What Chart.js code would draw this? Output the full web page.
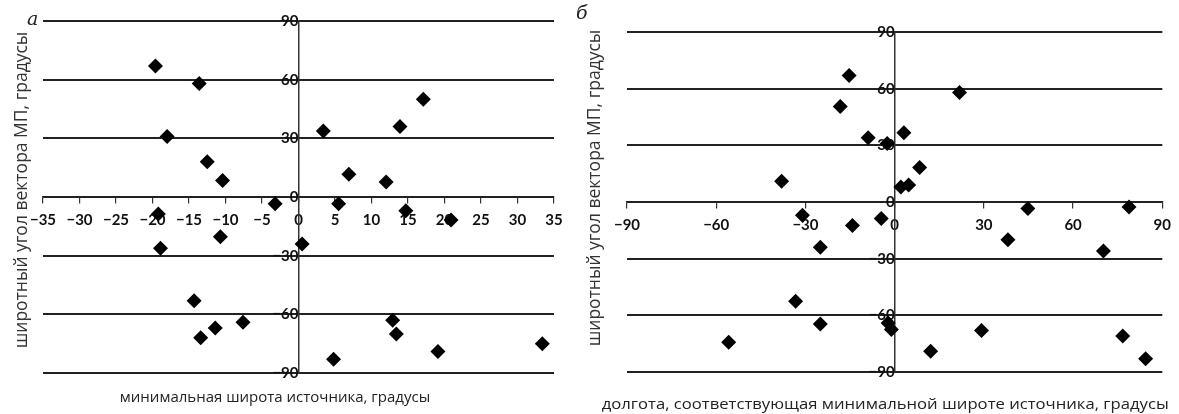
<!DOCTYPE html>
<html lang="ru">
<head>
<meta charset="utf-8">
<title>Широтный угол вектора МП</title>
<script src="https://cdn.jsdelivr.net/npm/chart.js@4.4.1/dist/chart.umd.min.js"></script>
<style>
    html, body { margin: 0; padding: 0; background: #fff; }
    #page { position: relative; width: 1179px; height: 414px; overflow: hidden; }
    .panel { position: absolute; top: 0; }
    .letter { position: absolute; font-family: 'DejaVu Serif', 'Liberation Serif', serif; font-style: italic; font-size: 19px; color: #222; }
    .ytitle { position: absolute; font-family: 'Open Sans', sans-serif; font-size: 17.5px; color: #333; white-space: nowrap;
              transform-origin: center center; }
    .xtitle { position: absolute; font-family: 'Open Sans', sans-serif; color: #222; white-space: nowrap; text-align: center; }
</style>
</head>
<body>
<div id="page">
    <div class="panel" style="left:0;"><canvas id="chart-a" width="580" height="414"></canvas></div>
    <div class="panel" style="left:600px;"><canvas id="chart-b" width="579" height="414"></canvas></div>

    <div class="letter" style="left:27px; top:7px;">а</div>
    <div class="letter" style="left:576px; top:1px;">б</div>

    <div class="ytitle" id="ytitle-a">широтный угол вектора МП, градусы</div>
    <div class="ytitle" id="ytitle-b">широтный угол вектора МП, градусы</div>

    <div class="xtitle" style="left:90px; width:370px; top:386px; font-size:15px;">минимальная широта источника, градусы</div>
    <div class="xtitle" style="left:585px; width:600px; top:394px; font-size:14px;">
        <span id="xtitle-b" style="display:inline-block; transform:scaleX(1.19);">долгота, соответствующая минимальной широте источника, градусы</span>
    </div>
</div>

<script>
// ---- данные: панель а (минимальная широта источника) ----
const aLatitude = [-19.6, -13.6, -18.0, -12.5, -10.4, -3.2, 3.4, 17.1, 13.9, 6.9, 12.0, 5.5, 14.7, 20.9,
    -19.2, -10.7, -18.9, -14.3, -13.4, -11.4, -7.6, 0.5, 12.9, 13.4, 4.8, 19.1, 33.4];
const aAngle = [67, 58, 31, 18, 8.5, -3.5, 33.7, 50, 36, 11.6, 7.7, -3.5, -7, -11.8,
    -8.7, -20.3, -26.2, -53, -72, -67, -64, -24, -63, -70, -83, -79, -75];

// ---- данные: панель б (долгота при минимальной широте) ----
const bLongitude = [-15.3, -18.3, -8.9, -2.5, -38.0, 21.8, 3.1, 8.4, 2.1, 4.7, 44.8, 78.8, -31.0, -14.2,
    -4.5, -25.0, -33.3, -25.0, -55.8, -2.2, -1.1, 38.1, 70.2, 29.2, 12.1, 76.7, 84.4];
const bAngle = [67, 50.5, 34, 31, 11, 58, 36.6, 18.3, 8, 9, -3.5, -2.6, -7, -12.4,
    -8.8, -24, -52.6, -64.6, -74.3, -64, -67.5, -20, -26, -68, -79, -71, -83];

// оси
const aXTicks = { min: -35, max: 35, step: 5 };
const bXTicks = { min: -90, max: 90, step: 30 };
const yTicks = { min: -90, max: 90, step: 30 };

const tickFont = { family: "Lato, 'Open Sans', sans-serif", size: 15, weight: 'bold' };
const minus = v => String(v).replace('-', '\u2212');

function toPoints(xs, ys) {
    return xs.map((x, i) => ({ x, y: ys[i] }));
}

function makeChart(canvasId, points, xTicks, padding) {
    const canvas = document.getElementById(canvasId);
    return new Chart(canvas, {
        type: 'scatter',
        data: {
            datasets: [{
                data: points,
                pointStyle: 'rectRot',
                pointRadius: 7.5,
                pointHoverRadius: 7.5,
                backgroundColor: '#000',
                borderColor: '#000',
                borderWidth: 0,
            }],
        },
        options: {
            responsive: false,
            animation: false,
            layout: { padding },
            plugins: {
                legend: { display: false },
                tooltip: { enabled: false },
            },
            scales: {
                x: {
                    type: 'linear',
                    position: { y: 0 },
                    min: xTicks.min,
                    max: xTicks.max,
                    ticks: {
                        stepSize: xTicks.step,
                        autoSkip: false,
                        maxRotation: 0,
                        padding: 8,
                        color: '#111',
                        font: tickFont,
                        callback: v => minus(v),
                    },
                    grid: {
                        drawOnChartArea: false,
                        drawTicks: true,
                        tickLength: 6,
                        color: '#333',
                        lineWidth: 1.2,
                    },
                    border: { display: true, color: '#222', width: 1.5 },
                },
                y: {
                    type: 'linear',
                    position: { x: 0 },
                    min: yTicks.min,
                    max: yTicks.max,
                    ticks: {
                        stepSize: yTicks.step,
                        autoSkip: false,
                        padding: 2,
                        color: '#111',
                        font: tickFont,
                        callback: v => minus(v),
                    },
                    grid: {
                        drawTicks: false,
                        color: '#222',
                        lineWidth: 2,
                    },
                    border: { display: true, color: '#333', width: 1.5 },
                },
            },
        },
    });
}

// вертикальные подписи осей Y
function placeYTitle(id, cx, cy) {
    const el = document.getElementById(id);
    const w = el.offsetWidth;
    const h = el.offsetHeight;
    el.style.left = (cx - w / 2) + 'px';
    el.style.top = (cy - h / 2) + 'px';
    el.style.transform = 'rotate(-90deg)';
}

makeChart('chart-a', toPoints(aLatitude, aAngle), aXTicks, { left: 43, right: 26, top: 21, bottom: 41 });
makeChart('chart-b', toPoints(bLongitude, bAngle), bXTicks, { left: 27, right: 13, top: 32, bottom: 42 });

placeYTitle('ytitle-a', 20, 190);
placeYTitle('ytitle-b', 593, 188);
</script>
</body>
</html>
